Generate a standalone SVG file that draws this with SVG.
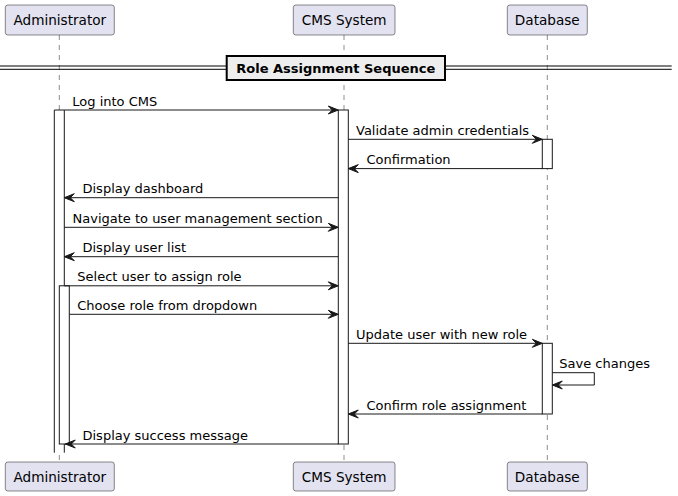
<svg xmlns="http://www.w3.org/2000/svg" width="678" height="496" viewBox="0 0 678 496">
<style>
text{font-family:"DejaVu Sans",sans-serif;font-size:13px;fill:#000}
.part rect{fill:#E2E2F0;stroke:#181818;stroke-width:0.5}
.part text{font-size:13.6px}
.life{stroke:#181818;stroke-width:0.5;stroke-dasharray:5,5;fill:none}
.act{fill:#FFFFFF;stroke:#181818;stroke-width:1}
.msg line,.msg path.l{stroke:#181818;stroke-width:1;fill:none}
.ah{fill:#181818;stroke:#181818;stroke-width:1}
.title{font-weight:bold}
</style>
<rect width="678" height="496" fill="#FFFFFF"/>
<g id="lifelines">
<line class="life" x1="59.3" y1="35" x2="59.3" y2="462"/>
<line class="life" x1="344" y1="35" x2="344" y2="462"/>
<line class="life" x1="547.3" y1="35" x2="547.3" y2="462"/>
</g>
<g id="participant-administrator" class="part">
<rect x="5.3" y="5" width="109" height="30" rx="2.5"/>
<text x="59.8" y="25" text-anchor="middle">Administrator</text>
<rect x="5.3" y="462" width="109" height="29" rx="2.5"/>
<text x="59.8" y="481.5" text-anchor="middle">Administrator</text>
</g>
<g id="participant-cms" class="part">
<rect x="293.3" y="5" width="101.7" height="30" rx="2.5"/>
<text x="344.2" y="25" text-anchor="middle">CMS System</text>
<rect x="293.3" y="462" width="101.7" height="29" rx="2.5"/>
<text x="344.2" y="481.5" text-anchor="middle">CMS System</text>
</g>
<g id="participant-database" class="part">
<rect x="507.3" y="5" width="80" height="30" rx="2.5"/>
<text x="547.3" y="25" text-anchor="middle">Database</text>
<rect x="507.3" y="462" width="80" height="29" rx="2.5"/>
<text x="547.3" y="481.5" text-anchor="middle">Database</text>
</g>
<g id="divider">
<line x1="0" y1="66" x2="671.7" y2="66" stroke="#000" stroke-width="1"/>
<line x1="0" y1="69.3" x2="671.7" y2="69.3" stroke="#000" stroke-width="1"/>
<rect x="226.7" y="56" width="218.3" height="24" fill="#EEEEEE" stroke="#000" stroke-width="2"/>
<text class="title" x="335.8" y="72.8" text-anchor="middle">Role Assignment Sequence</text>
</g>
<g id="activations">
<path class="act" d="M54.3 452.7 V110 H64.3 V452.7"/>
<rect class="act" x="59.3" y="285.8" width="10" height="158.2"/>
<rect class="act" x="338.3" y="110" width="10" height="334"/>
<rect class="act" x="542.3" y="139.3" width="10" height="29.3"/>
<rect class="act" x="542.3" y="343.3" width="10" height="70.7"/>
</g>
<g id="connectors" class="msg">
<line x1="64.3" y1="110" x2="337.3" y2="110"/>
<polygon class="ah" points="328.3,106 338.3,110 328.3,114 332.3,110"/>
<line x1="348.3" y1="139.3" x2="541.3" y2="139.3"/>
<polygon class="ah" points="532.3,135.3 542.3,139.3 532.3,143.3 536.3,139.3"/>
<line x1="349.3" y1="168.6" x2="542.3" y2="168.6"/>
<polygon class="ah" points="358.3,164.6 348.3,168.6 358.3,172.6 354.3,168.6"/>
<line x1="65.3" y1="197.7" x2="338.3" y2="197.7"/>
<polygon class="ah" points="74.3,193.7 64.3,197.7 74.3,201.7 70.3,197.7"/>
<line x1="64.3" y1="227.3" x2="337.3" y2="227.3"/>
<polygon class="ah" points="328.3,223.3 338.3,227.3 328.3,231.3 332.3,227.3"/>
<line x1="65.3" y1="256.7" x2="338.3" y2="256.7"/>
<polygon class="ah" points="74.3,252.7 64.3,256.7 74.3,260.7 70.3,256.7"/>
<line x1="64.3" y1="285.8" x2="337.3" y2="285.8"/>
<polygon class="ah" points="328.3,281.8 338.3,285.8 328.3,289.8 332.3,285.8"/>
<line x1="69.3" y1="314.3" x2="337.3" y2="314.3"/>
<polygon class="ah" points="328.3,310.3 338.3,314.3 328.3,318.3 332.3,314.3"/>
<line x1="348.3" y1="343.3" x2="541.3" y2="343.3"/>
<polygon class="ah" points="532.3,339.3 542.3,343.3 532.3,347.3 536.3,343.3"/>
<path class="l" d="M552.3 372.7 H594.3 V385 H553.3"/>
<polygon class="ah" points="562.3,381 552.3,385 562.3,389 558.3,385"/>
<line x1="349.3" y1="414" x2="542.3" y2="414"/>
<polygon class="ah" points="358.3,410 348.3,414 358.3,418 354.3,414"/>
<line x1="65.3" y1="444" x2="338.3" y2="444"/>
<polygon class="ah" points="75.3,440 65.3,444 75.3,448 71.3,444"/>
</g>
<g id="labels">
<text x="72.3" y="105.5">Log into CMS</text>
<text x="356" y="134.8">Validate admin credentials</text>
<text x="366.5" y="164.1">Confirmation</text>
<text x="82.5" y="193.2">Display dashboard</text>
<text x="72.5" y="222.8">Navigate to user management section</text>
<text x="82.5" y="252.2">Display user list</text>
<text x="77.3" y="281.3">Select user to assign role</text>
<text x="77.3" y="309.8">Choose role from dropdown</text>
<text x="356" y="338.8">Update user with new role</text>
<text x="559.3" y="368">Save changes</text>
<text x="366.5" y="409.5">Confirm role assignment</text>
<text x="82.5" y="439.5">Display success message</text>
</g>
</svg>
